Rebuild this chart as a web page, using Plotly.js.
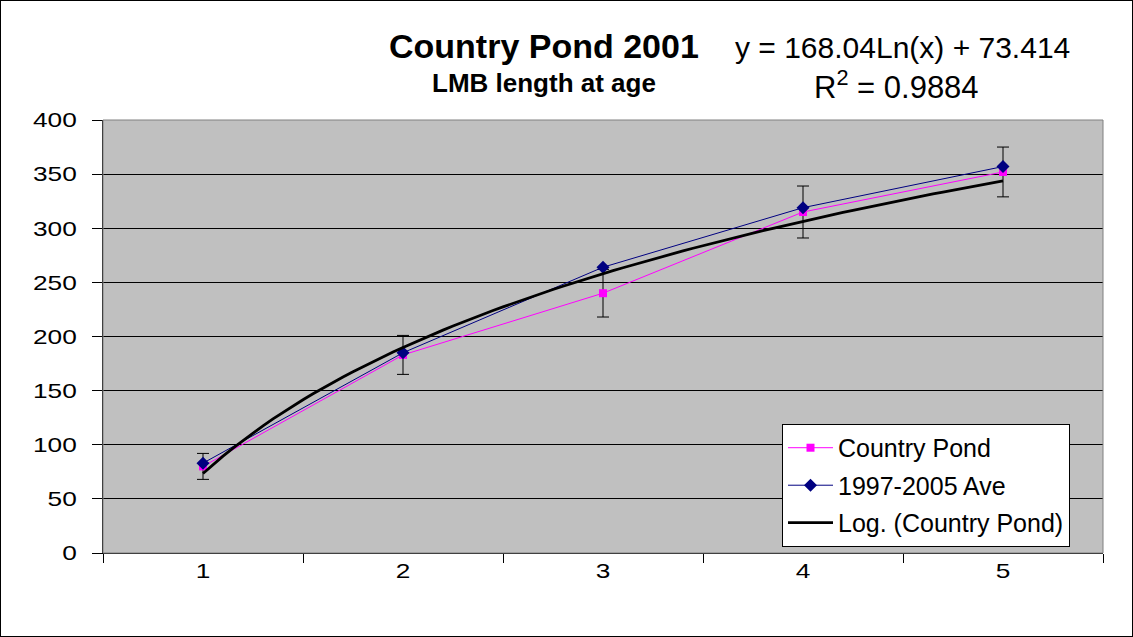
<!DOCTYPE html>
<html>
<head>
<meta charset="utf-8">
<script src="https://cdn.plot.ly/plotly-3.0.1.min.js"></script>
<style>
  html, body { margin: 0; padding: 0; background: #fff; }
  #chart { width: 1133px; height: 637px; box-sizing: border-box; border: 1px solid #000; }
</style>
</head>
<body>
<div id="chart"></div>
<script>
// ---- data ----
const ages = ['1', '2', '3', '4', '5'];
const countryPond = [80, 183, 240, 315, 352];
const avg1997_2005 = [83, 185, 264, 319, 357];
const countryPondErr = [12, 18, 22, 24, 23];
// logarithmic trend line as printed on the chart: y = 168.04 Ln(x) + 73.414
const trendSlope = 168.04;
const trendIntercept = 73.414;
const trendXStart = 1, trendXEnd = 5, trendStep = 0.05;
const yTicks = [0, 50, 100, 150, 200, 250, 300, 350, 400];

const trendX = [];
const trendY = [];
for (let x = trendXStart; x <= trendXEnd + 1e-9; x += trendStep) {
  trendX.push(x);
  trendY.push(trendSlope * Math.log(x) + trendIntercept);
}

const font = 'Liberation Sans, Arial, sans-serif';

const traces = [
  {
    x: trendX, y: trendY, xaxis: 'x2', yaxis: 'y',
    type: 'scatter', mode: 'lines', name: 'Log. (Country Pond)',
    line: { color: '#000000', width: 2.8 },
    legendrank: 3, legendgroup: 'c', hoverinfo: 'skip'
  },
  {
    x: ages, y: countryPond, type: 'scatter', mode: 'lines+markers', name: 'Country Pond',
    line: { color: '#FF00FF', width: 1 },
    marker: { symbol: 'square', size: 8, color: '#FF00FF' },
    error_y: { type: 'data', array: countryPondErr, visible: true, color: '#000000', thickness: 1, width: 6 },
    legendrank: 1, legendgroup: 'a'
  },
  {
    x: ages, y: avg1997_2005, type: 'scatter', mode: 'lines+markers', name: '1997-2005 Ave',
    line: { color: '#000080', width: 1 },
    marker: { symbol: 'diamond', size: 10, color: '#000080' },
    legendrank: 2, legendgroup: 'b'
  }
];

const layout = {
  width: 1131, height: 635,
  margin: { l: 102, r: 29, t: 119, b: 83 },
  paper_bgcolor: '#ffffff',
  plot_bgcolor: '#C0C0C0',
  font: { family: font, size: 20, color: '#000' },
  showlegend: true,
  legend: {
    x: 0.679, y: 0.298, xanchor: 'left', yanchor: 'top',
    bgcolor: '#ffffff', bordercolor: '#000000', borderwidth: 1,
    font: { family: font, size: 25, color: '#000' },
    tracegroupgap: 2, itemwidth: 45
  },
  xaxis: {
    type: 'category', range: [-0.5, 4.5],
    tickson: 'boundaries', ticks: 'outside', ticklen: 9, tickcolor: '#000',
    ticklabelstandoff: -1,
    showgrid: false, zeroline: false,
    showline: true, linecolor: '#000', linewidth: 1,
    tickfont: { family: font, size: 21, color: '#000' },
    fixedrange: true
  },
  xaxis2: {
    type: 'linear', range: [0.5, 5.5], overlaying: 'x',
    visible: false, fixedrange: true
  },
  yaxis: {
    range: [0, 400], tickvals: yTicks,
    ticks: 'outside', ticklen: 10, tickcolor: '#000',
    ticklabelstandoff: 11,
    showgrid: true, gridcolor: '#000000', gridwidth: 1,
    zeroline: false, showline: true, linecolor: '#000', linewidth: 1,
    tickfont: { family: font, size: 21, color: '#000' },
    fixedrange: true
  },
  shapes: [
    { type: 'rect', xref: 'paper', yref: 'paper', x0: 0, x1: 1, y0: 0, y1: 1,
      line: { color: '#808080', width: 1 }, fillcolor: 'rgba(0,0,0,0)', layer: 'above' }
  ],
  annotations: [
    { text: '<b>Country Pond 2001</b>', xref: 'paper', yref: 'paper',
      x: 0.441, y: 1.171, xanchor: 'center', yanchor: 'middle', showarrow: false,
      font: { family: font, size: 34, color: '#000' } },
    { text: '<b>LMB length at age</b>', xref: 'paper', yref: 'paper',
      x: 0.441, y: 1.085, xanchor: 'center', yanchor: 'middle', showarrow: false,
      font: { family: font, size: 26, color: '#000' } },
    { text: 'y = 168.04Ln(x) + 73.414', xref: 'paper', yref: 'paper',
      x: 0.7995, y: 1.168, xanchor: 'center', yanchor: 'middle', showarrow: false,
      font: { family: font, size: 30, color: '#000' } },
    { text: 'R<sup>2</sup> = 0.9884', xref: 'paper', yref: 'paper',
      x: 0.7935, y: 1.08, xanchor: 'center', yanchor: 'middle', showarrow: false,
      font: { family: font, size: 31, color: '#000' } }
  ]
};

Plotly.newPlot('chart', traces, layout, { staticPlot: true, displayModeBar: false }).then(function () {
  // the reference's tick labels are drawn horizontally widened; widen them about their anchor
  const stretch = 1.25;
  document.querySelectorAll('#chart .xtick text, #chart .ytick text').forEach(function (t) {
    const ax = parseFloat(t.getAttribute('x')) || 0;
    const prev = t.getAttribute('transform') || '';
    t.setAttribute('transform', (prev + ' translate(' + ax + ',0) scale(' + stretch + ',1) translate(' + (-ax) + ',0)').trim());
  });
});
</script>
</body>
</html>
